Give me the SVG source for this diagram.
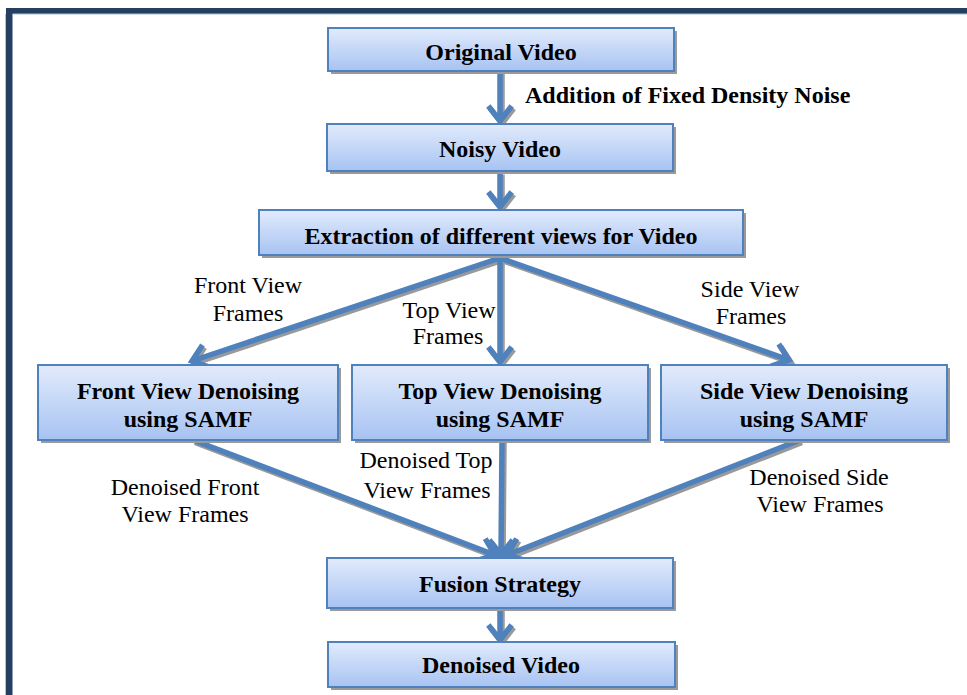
<svg xmlns="http://www.w3.org/2000/svg" xmlns:xlink="http://www.w3.org/1999/xlink" width="967" height="695" viewBox="0 0 967 695">
<style>
.box{fill:url(#g);stroke:#4f81bd;stroke-width:2}
.sh{fill:#9a9a9a}
.bt{font-family:"Liberation Serif","Times New Roman",serif;font-weight:bold;font-size:24px;fill:#000;text-anchor:middle}
.lt{font-family:"Liberation Serif","Times New Roman",serif;font-size:24px;fill:#000;text-anchor:middle}
.ln{fill:none;stroke:#4f81bd;stroke-width:5.5;stroke-linejoin:miter;stroke-miterlimit:10}
.lns{fill:none;stroke:#999;stroke-width:5.5;stroke-linejoin:miter;stroke-miterlimit:10}
</style>
<defs>
<linearGradient id="g" x1="0" y1="0" x2="0" y2="1">
<stop offset="0" stop-color="#e2ebfc"/>
<stop offset="1" stop-color="#a7c3f2"/>
</linearGradient>
<path id="c1" d="M500 71 L500 121 M488.3 106 L500 121 L511.7 106"/>
<path id="c2" d="M500 172 L500 207 M488.3 192 L500 207 L511.7 192"/>
<path id="c3" d="M500 258 L192 361 M202.5 345.1 L192 361 L209.9 367.4"/>
<path id="c4" d="M500 258 L500 362 M488.3 347 L500 362 L511.7 347"/>
<path id="c5" d="M500 258 L789 360 M778.7 344 L789 360 L771 366"/>
<path id="c6" d="M193 440 L495 555 M485.2 538.7 L495 555 L476.8 560.6"/>
<path id="c7" d="M502 440 L501 555 M489.3 540 L501 555 L512.7 540"/>
<path id="c8" d="M800 440 L507 555 M516.7 538.7 L507 555 L525.2 560.4"/>
<path id="c9" d="M500 608 L500 640 M488.3 625 L500 640 L511.7 625"/>
</defs>
<rect width="967" height="695" fill="#fff"/>
<g id="frame">
<rect x="6" y="8" width="961" height="6" fill="#243f60"/>
<rect x="6" y="8" width="6.5" height="687" fill="#243f60"/>
<line x1="5.5" y1="14" x2="5.5" y2="695" stroke="#b8c4d4" stroke-width="1"/>
<line x1="12.5" y1="14" x2="967" y2="14" stroke="#a9bfdc" stroke-width="1"/>
</g>
<g id="connectors">
<g class="lns" transform="translate(2,2.5)">
<use xlink:href="#c1"/><use xlink:href="#c2"/><use xlink:href="#c3"/><use xlink:href="#c4"/><use xlink:href="#c5"/><use xlink:href="#c6"/><use xlink:href="#c7"/><use xlink:href="#c8"/><use xlink:href="#c9"/>
</g>
<g class="ln">
<use xlink:href="#c1"/><use xlink:href="#c2"/><use xlink:href="#c3"/><use xlink:href="#c4"/><use xlink:href="#c5"/><use xlink:href="#c6"/><use xlink:href="#c7"/><use xlink:href="#c8"/><use xlink:href="#c9"/>
</g>
<text class="bt" x="525" y="103" style="text-anchor:start">Addition of Fixed Density Noise</text>
<text class="lt" x="248" y="293">Front View</text>
<text class="lt" x="248" y="321">Frames</text>
<text class="lt" x="449" y="318">Top View</text>
<text class="lt" x="448" y="344">Frames</text>
<text class="lt" x="750" y="297">Side View</text>
<text class="lt" x="751" y="324">Frames</text>
<text class="lt" x="185" y="495">Denoised Front</text>
<text class="lt" x="185" y="522">View Frames</text>
<text class="lt" x="426" y="468">Denoised Top</text>
<text class="lt" x="427" y="498">View Frames</text>
<text class="lt" x="819" y="485">Denoised Side</text>
<text class="lt" x="820" y="512">View Frames</text>
</g>
<g id="original">
<rect class="sh" x="331" y="31" width="346" height="43"/>
<rect class="box" x="328" y="28" width="346" height="43"/>
<text class="bt" x="501" y="60">Original Video</text>
</g>
<g id="noisy">
<rect class="sh" x="330" y="127" width="346" height="47"/>
<rect class="box" x="327" y="124" width="346" height="47"/>
<text class="bt" x="500" y="157">Noisy Video</text>
</g>
<g id="extraction">
<rect class="sh" x="262" y="213" width="484" height="45"/>
<rect class="box" x="259" y="210" width="484" height="45"/>
<text class="bt" x="501" y="244">Extraction of different views for Video</text>
</g>
<g id="front">
<rect class="sh" x="41" y="368" width="300" height="75"/>
<rect class="box" x="38" y="365" width="300" height="75"/>
<text class="bt" x="188" y="399">Front View Denoising</text>
<text class="bt" x="188" y="427">using SAMF</text>
</g>
<g id="top">
<rect class="sh" x="355" y="368" width="296" height="75"/>
<rect class="box" x="352" y="365" width="296" height="75"/>
<text class="bt" x="500" y="399">Top View Denoising</text>
<text class="bt" x="500" y="427">using SAMF</text>
</g>
<g id="side">
<rect class="sh" x="664" y="368" width="286" height="75"/>
<rect class="box" x="661" y="365" width="286" height="75"/>
<text class="bt" x="804" y="399">Side View Denoising</text>
<text class="bt" x="804" y="427">using SAMF</text>
</g>
<g id="fusion">
<rect class="sh" x="330" y="561" width="346" height="50"/>
<rect class="box" x="327" y="558" width="346" height="50"/>
<text class="bt" x="500" y="592">Fusion Strategy</text>
</g>
<g id="denoised">
<rect class="sh" x="331" y="645" width="347" height="45"/>
<rect class="box" x="328" y="642" width="347" height="45"/>
<text class="bt" x="501" y="673">Denoised Video</text>
</g>
</svg>
